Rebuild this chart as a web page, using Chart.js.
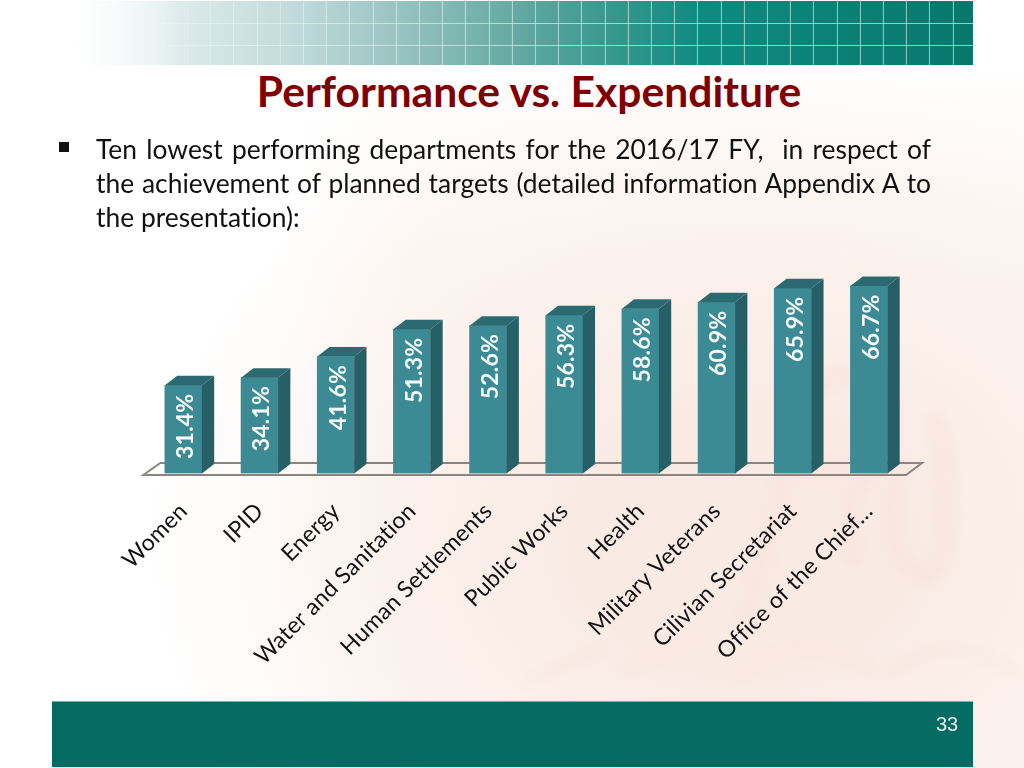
<!DOCTYPE html>
<html><head><meta charset="utf-8">
<script src="https://cdn.jsdelivr.net/npm/chart.js@4"></script>
<style>
html,body{margin:0;padding:0;background:#fff;width:1024px;height:768px;overflow:hidden}
#page{position:relative;width:1024px;height:768px;overflow:hidden;font-family:Lato,sans-serif;font-variant-ligatures:none;background:#fff}
#wash{position:absolute;inset:0;
background:
 radial-gradient(ellipse 600px 480px at 740px 540px,rgba(249,233,226,.85) 28%,rgba(251,241,235,.5) 72%,rgba(253,247,243,0) 100%),
 linear-gradient(180deg,rgba(255,255,255,1) 8%,rgba(255,255,255,0) 38%),
 linear-gradient(90deg,#fff 27%,#fdf7f3 42%,#fcf5f1 100%);}
#mark{position:absolute;left:0;top:0}
#band{position:absolute;left:60px;top:1px;width:913px;height:64px;
background:
 linear-gradient(90deg,#fff 0,rgba(255,255,255,0) 14%),
 repeating-linear-gradient(90deg,rgba(225,245,240,.65) 0 1px,transparent 1px 23.2px) 10.9px 0,
 linear-gradient(180deg,transparent 0 21.8px,rgba(225,245,240,.65) 21.8px 22.8px,transparent 22.8px 44.3px,rgba(225,245,240,.65) 44.3px 45.3px,transparent 45.3px),
 linear-gradient(90deg,#fff 0,#dfecec 12%,#c0dadb 26%,#8dbdb9 40%,#4fa097 55%,#0f8a80 70%,#08776c 100%);}
#foot{position:absolute;left:52px;top:702px;width:921px;height:65px;background:#046b63;box-shadow:0 -1px 0 #6cb8b2}
#pn{position:absolute;left:936px;top:713px;font:20px "Liberation Sans",sans-serif;color:#e6f2f0}
#title{position:absolute;left:0;top:67px;width:1058px;text-align:center;font-weight:700;font-size:42.6px;line-height:48px;color:#7f0000}
.ln{position:absolute;left:96px;width:835px;font-size:26.4px;line-height:34px;color:#111}
.j{text-align:justify;text-align-last:justify}
#bul{position:absolute;left:59px;top:142px;width:10px;height:10px;background:#111}
canvas{position:absolute;left:0;top:0}
</style></head><body>
<div id="page">
<div id="wash"></div>
<svg id="mark" width="1024" height="768" viewBox="0 0 1024 768" aria-hidden="true">
<defs><filter id="bl"><feGaussianBlur stdDeviation="6"/></filter></defs>
<g filter="url(#bl)" fill="none" stroke="#f6d9cf" stroke-width="15" opacity=".3" stroke-linecap="round">
<path d="M745 620C770 540 785 470 800 400C835 360 895 370 885 420C875 465 820 480 790 470"/>
<path d="M855 560C835 505 860 460 900 470C880 510 890 570 925 575C955 570 950 450 935 420"/>
<path d="M530 680L600 650M625 670L700 640M740 675C780 640 830 640 870 670M890 675C930 640 970 645 1010 670" stroke-width="9" opacity=".6"/>
</g></svg>
<div id="band"></div><div id="foot"></div><div id="pn">33</div>
<div id="title">Performance vs. Expenditure</div>
<div id="bul"></div>
<div class="ln j" style="top:132px">Ten lowest performing departments for the 2016/17 FY,&nbsp; in respect of</div>
<div class="ln j" style="top:166px">the achievement of planned targets (detailed information Appendix A to</div>
<div class="ln" style="top:200px">the presentation):</div>
<canvas id="c" width="1024" height="768" style="width:1024px;height:768px"></canvas>
</div>
<script>
const categories=["Women","IPID","Energy","Water and Sanitation","Human Settlements","Public Works","Health","Military Veterans","Cilivian Secretariat","Office of the Chief…"];
const performance=[31.4,34.1,41.6,51.3,52.6,56.3,58.6,60.9,65.9,66.7];
const axisMax=80;
const depthX=12.3, depthY=9.5;
const box3d={id:'box3d',
 beforeDraw(ch){ch.ctx.letterSpacing='0.2px';},
 beforeDatasetsDraw(ch){
  const g=ch.ctx,a=ch.chartArea;
  g.save();
  g.strokeStyle='#8c8480';g.lineWidth=2;g.lineJoin='miter';
  g.beginPath();
  g.moveTo(a.left-2,a.bottom+1.5);g.lineTo(a.left+15,a.bottom-10.5);
  g.lineTo(a.right+15,a.bottom-10.5);g.lineTo(a.right-1,a.bottom+1.5);g.closePath();g.stroke();
  g.restore();
 },
 afterDatasetsDraw(ch){
  const g=ch.ctx,m=ch.getDatasetMeta(0);
  g.save();
  m.data.forEach((b,i)=>{
   const l=b.x-b.width/2,r=b.x+b.width/2,t=b.y,bo=b.base;
   g.fillStyle='#275f66';
   g.beginPath();g.moveTo(r,t);g.lineTo(r+depthX,t-depthY);g.lineTo(r+depthX,bo-depthY);g.lineTo(r,bo);g.closePath();g.fill();
   g.fillStyle='#2c6a71';
   g.beginPath();g.moveTo(l,t);g.lineTo(l+depthX,t-depthY);g.lineTo(r+depthX,t-depthY);g.lineTo(r,t);g.closePath();g.fill();
   g.save();
   g.translate(b.x+2.5,t+41);g.rotate(-Math.PI/2);
   g.fillStyle='#f4fafa';g.font='bold 23px Lato';g.textAlign='center';g.textBaseline='middle';
   g.fillText(performance[i].toFixed(1)+'%',0,0);
   g.restore();
  });
  g.restore();
 }};
new Chart(document.getElementById('c'),{
 type:'bar',
 data:{labels:categories,datasets:[{data:performance,backgroundColor:'#3b8a94',borderWidth:0,barThickness:37}]},
 options:{
  responsive:false,animation:false,devicePixelRatio:1,
  layout:{padding:{left:145.3,right:117,top:248.7,bottom:0}},
  plugins:{legend:{display:false},tooltip:{enabled:false},title:{display:false}},
  scales:{
   y:{display:false,min:0,max:axisMax},
   x:{offset:true,
    afterFit(s){s.height=294.5;},
    grid:{display:false,drawBorder:false},border:{display:false},
    ticks:{autoSkip:false,maxRotation:45,minRotation:45,padding:16,color:'#111',font:{family:'Lato',size:23}}}
  }
 },
 plugins:[box3d]
});
</script>
</body></html>
